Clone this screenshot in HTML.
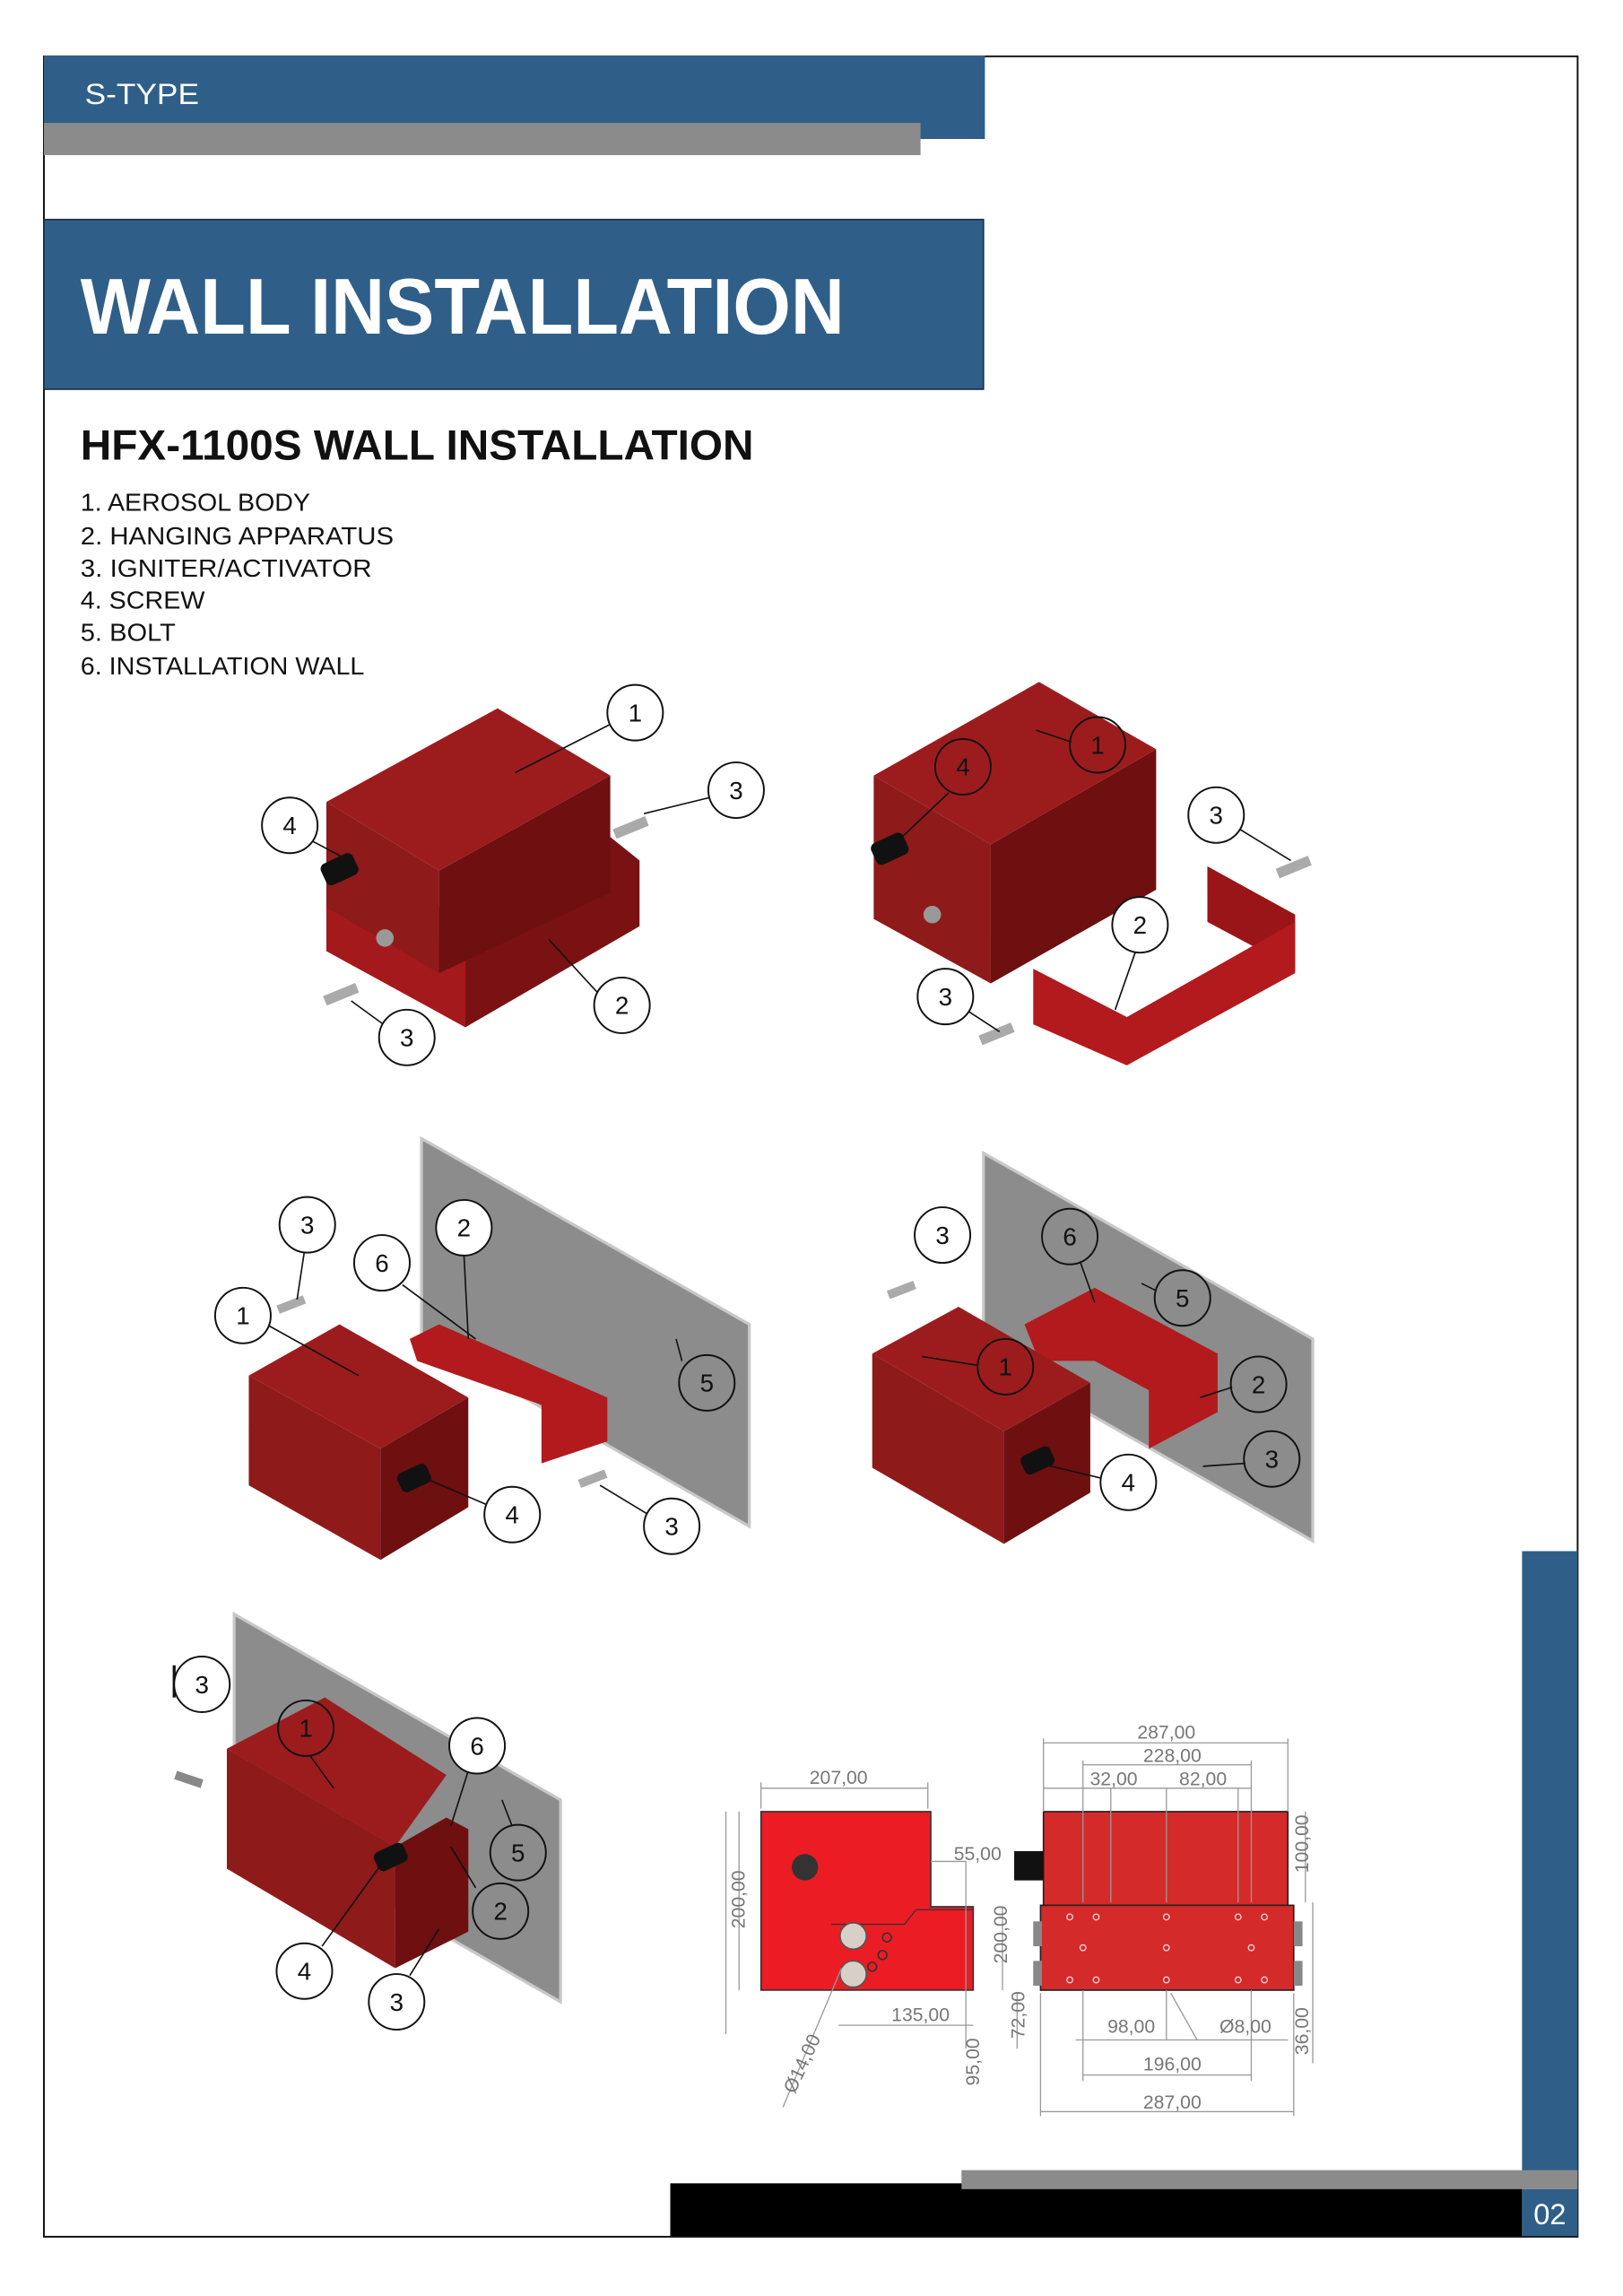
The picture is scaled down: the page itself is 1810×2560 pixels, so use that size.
<!DOCTYPE html>
<html><head><meta charset="utf-8"><style>
html,body{margin:0;padding:0;background:#fff;}
svg{display:block;}
text{font-family:"Liberation Sans",sans-serif;}
</style></head><body>
<svg width="1810" height="2560" viewBox="0 0 1109 1569" preserveAspectRatio="none" xmlns="http://www.w3.org/2000/svg">
<rect width="1109" height="1569" fill="#fff"/>
<!-- frame -->
<rect x="30" y="38.5" width="1048" height="1490" fill="none" stroke="#111" stroke-width="1.2"/>
<!-- header -->
<rect x="30" y="38" width="643" height="57" fill="#2f5f88"/>
<rect x="30" y="84" width="599" height="22" fill="#8c8b8c"/>
<text x="58" y="71" font-size="20" fill="#fff" textLength="78" lengthAdjust="spacingAndGlyphs">S-TYPE</text>
<rect x="30" y="150" width="642" height="116" fill="#2f5f88" stroke="#1a2f45" stroke-width="1"/>
<text x="55" y="228" font-size="54" font-weight="bold" fill="#fff" textLength="522" lengthAdjust="spacingAndGlyphs">WALL INSTALLATION</text>
<text x="55" y="314" font-size="29" font-weight="bold" fill="#111" textLength="460" lengthAdjust="spacingAndGlyphs">HFX-1100S WALL INSTALLATION</text>
<g font-size="17" fill="#111">
<text x="55" y="349" textLength="157" lengthAdjust="spacingAndGlyphs">1.  AEROSOL BODY</text>
<text x="55" y="372" textLength="214" lengthAdjust="spacingAndGlyphs">2. HANGING APPARATUS</text>
<text x="55" y="394" textLength="199" lengthAdjust="spacingAndGlyphs">3. IGNITER/ACTIVATOR</text>
<text x="55" y="416" textLength="85" lengthAdjust="spacingAndGlyphs">4. SCREW</text>
<text x="55" y="438" textLength="65" lengthAdjust="spacingAndGlyphs">5. BOLT</text>
<text x="55" y="461" textLength="194" lengthAdjust="spacingAndGlyphs">6. INSTALLATION WALL</text>
</g>

<!-- Fig 1 -->
<g>
<polygon points="300,620 417,572 437,588 437,633 318,702 300,692" fill="#7a1214"/>
<polygon points="223,600 318,650 318,702 223,650" fill="#a3191c"/>
<polygon points="223,548 340,484 417,530 300,595" fill="#9c1c1e"/>
<polygon points="223,548 300,595 300,665 223,620" fill="#8e1a1a"/>
<polygon points="300,595 417,530 417,610 300,665" fill="#6e0f10"/>
<rect x="220" y="586" width="24" height="16" rx="4" fill="#111" transform="rotate(-25 232 594)"/>
<circle cx="263" cy="641" r="6" fill="#999"/>
<path d="M420,570 l22,-9" stroke="#aaa" stroke-width="7"/>
<path d="M222,684 l22,-9" stroke="#aaa" stroke-width="7"/>
</g>
<!-- Fig 2 -->
<g>
<polygon points="825,592 885,625 885,662 825,630" fill="#9a1518"/>
<polygon points="706,662 770,695 885,630 885,665 770,728 706,700" fill="#b21a1d"/>
<polygon points="597,530 677,577 677,672 597,628" fill="#8e1a1a"/>
<polygon points="677,577 790,512 790,608 677,672" fill="#6e0f10"/>
<polygon points="597,530 710,466 790,512 677,577" fill="#9c1c1e"/>
<rect x="596" y="572" width="24" height="16" rx="4" fill="#111" transform="rotate(-25 608 580)"/>
<circle cx="637" cy="625" r="6" fill="#999"/>
<path d="M873,597 l22,-9" stroke="#aaa" stroke-width="7"/>
<path d="M670,711 l22,-9" stroke="#aaa" stroke-width="7"/>
</g>
<!-- Fig 3 -->
<g>
<polygon points="288,778 512,905 512,1043 288,915" fill="#8c8c8c" stroke="#c8c8c8" stroke-width="2"/>
<polygon points="280,915 300,905 415,955 415,985 370,1000 370,960 285,930" fill="#b21a1d"/>
<polygon points="170,940 260,990 260,1066 170,1015" fill="#8e1a1a"/>
<polygon points="260,990 320,955 320,1030 260,1066" fill="#6e0f10"/>
<polygon points="170,940 232,905 320,955 260,990" fill="#9c1c1e"/>
<rect x="272" y="1003" width="22" height="14" rx="4" fill="#111" transform="rotate(-25 283 1010)"/>
<path d="M190,895 l18,-7" stroke="#aaa" stroke-width="6"/>
<path d="M396,1014 l18,-7" stroke="#aaa" stroke-width="6"/>
</g>
<!-- Fig 4 -->
<g>
<polygon points="672,788 897,915 897,1053 672,925" fill="#8c8c8c" stroke="#c8c8c8" stroke-width="2"/>
<polygon points="700,905 748,880 832,925 832,965 785,990 785,950 748,930 710,930" fill="#b21a1d"/>
<polygon points="596,925 686,978 686,1055 596,1003" fill="#8e1a1a"/>
<polygon points="686,978 745,945 745,1020 686,1055" fill="#6e0f10"/>
<polygon points="596,925 655,893 745,945 686,978" fill="#9c1c1e"/>
<rect x="698" y="991" width="22" height="14" rx="4" fill="#111" transform="rotate(-25 709 998)"/>
<path d="M607,885 l18,-7" stroke="#aaa" stroke-width="6"/>
</g>
<!-- Fig 5 -->
<g>
<polygon points="160,1103 383,1230 383,1368 160,1240" fill="#8c8c8c" stroke="#c8c8c8" stroke-width="2"/>
<polygon points="155,1195 270,1262 270,1345 155,1277" fill="#8e1a1a"/>
<polygon points="270,1262 305,1242 320,1250 320,1320 270,1345" fill="#6e0f10"/>
<polygon points="155,1195 222,1160 305,1213 270,1262" fill="#9c1c1e"/>
<rect x="256" y="1262" width="22" height="14" rx="4" fill="#111" transform="rotate(-25 267 1269)"/>
<path d="M119,1138 v22" stroke="#111" stroke-width="2"/>
<path d="M120,1213 l18,6" stroke="#888" stroke-width="6"/>
</g>

<!-- leader lines and callouts -->
<g stroke="#111" stroke-width="1" fill="none">
<path d="M352,528 L417,495"/><path d="M242,590 L212,574"/><path d="M440,556 L485,545"/><path d="M375,642 L408,678"/><path d="M240,684 L262,700"/>
<path d="M708,499 L732,507"/><path d="M610,578 L648,542"/><path d="M882,588 L846,566"/><path d="M762,690 L776,650"/><path d="M683,705 L660,690"/>
<path d="M203,888 L208,855"/><path d="M320,915 L317,857"/><path d="M325,915 L275,878"/><path d="M245,940 L182,905"/><path d="M462,915 L466,930"/><path d="M290,1010 L332,1028"/><path d="M410,1015 L443,1035"/>
<path d="M748,890 L738,862"/><path d="M780,877 L790,882"/><path d="M630,927 L668,933"/><path d="M820,955 L842,948"/><path d="M822,1002 L851,1000"/><path d="M710,1000 L752,1010"/>
<path d="M228,1222 L212,1200"/><path d="M308,1248 L320,1210"/><path d="M343,1230 L350,1248"/><path d="M308,1262 L325,1290"/><path d="M262,1272 L220,1330"/><path d="M300,1318 L280,1350"/>
</g>
<g fill="#fff" stroke="#111" stroke-width="1.2">
<circle cx="434" cy="487" r="19"/><circle cx="503" cy="540" r="19"/><circle cx="198" cy="564" r="19"/><circle cx="425" cy="687" r="19"/><circle cx="278" cy="709" r="19"/>
<circle cx="658" cy="524" r="19" fill="none"/><circle cx="750" cy="509" r="19" fill="none"/><circle cx="831" cy="557" r="19"/><circle cx="779" cy="632" r="19"/><circle cx="646" cy="681" r="19"/>
<circle cx="210" cy="837" r="19"/><circle cx="317" cy="839" r="19"/><circle cx="261" cy="863" r="19"/><circle cx="166" cy="899" r="19"/><circle cx="483" cy="945" r="19" fill="none"/><circle cx="350" cy="1035" r="19"/><circle cx="459" cy="1043" r="19"/>
<circle cx="644" cy="844" r="19"/><circle cx="731" cy="845" r="19" fill="none"/><circle cx="808" cy="887" r="19" fill="none"/><circle cx="687" cy="934" r="19" fill="none"/><circle cx="860" cy="946" r="19" fill="none"/><circle cx="869" cy="997" r="19" fill="none"/><circle cx="771" cy="1013" r="19"/>
<circle cx="138" cy="1151" r="19"/><circle cx="209" cy="1181" r="19" fill="none"/><circle cx="326" cy="1193" r="19"/><circle cx="354" cy="1266" r="19" fill="none"/><circle cx="342" cy="1306" r="19" fill="none"/><circle cx="208" cy="1347" r="19"/><circle cx="271" cy="1368" r="19"/>
</g>
<g font-size="17" fill="#111" text-anchor="middle">
<text x="434" y="493">1</text><text x="503" y="546">3</text><text x="198" y="570">4</text><text x="425" y="693">2</text><text x="278" y="715">3</text>
<text x="658" y="530">4</text><text x="750" y="515">1</text><text x="831" y="563">3</text><text x="779" y="638">2</text><text x="646" y="687">3</text>
<text x="210" y="843">3</text><text x="317" y="845">2</text><text x="261" y="869">6</text><text x="166" y="905">1</text><text x="483" y="951">5</text><text x="350" y="1041">4</text><text x="459" y="1049">3</text>
<text x="644" y="850">3</text><text x="731" y="851">6</text><text x="808" y="893">5</text><text x="687" y="940">1</text><text x="860" y="952">2</text><text x="869" y="1003">3</text><text x="771" y="1019">4</text>
<text x="138" y="1157">3</text><text x="209" y="1187">1</text><text x="326" y="1199">6</text><text x="354" y="1272">5</text><text x="342" y="1312">2</text><text x="208" y="1353">4</text><text x="271" y="1374">3</text>
</g>

<!-- technical drawing: side view -->
<polygon points="520,1238 636,1238 636,1303 665,1303 665,1360 520,1360" fill="#ec1c24" stroke="#333" stroke-width="1"/>
<circle cx="550" cy="1276" r="9" fill="#333"/>
<path d="M568,1315 h50 l8,-10 h39" stroke="#333" fill="none" stroke-width="0.8"/>
<circle cx="583" cy="1323" r="9" fill="#d8d0c8" stroke="#555"/>
<circle cx="583" cy="1349" r="9" fill="#d8d0c8" stroke="#555"/>
<circle cx="606" cy="1324" r="3" fill="none" stroke="#333"/><circle cx="603" cy="1336" r="3" fill="none" stroke="#333"/><circle cx="596" cy="1344" r="3" fill="none" stroke="#333"/>
<!-- front view -->
<rect x="713" y="1238" width="167" height="64" fill="#d42a2a" stroke="#222"/>
<rect x="711" y="1302" width="173" height="58" fill="#d42a2a" stroke="#222"/>
<rect x="693" y="1265" width="20" height="20" fill="#111"/>
<rect x="706" y="1313" width="6" height="17" fill="#888"/><rect x="706" y="1340" width="6" height="17" fill="#888"/>
<rect x="884" y="1313" width="6" height="17" fill="#888"/><rect x="884" y="1340" width="6" height="17" fill="#888"/>
<g fill="none" stroke="#fff" stroke-width="0.8" opacity="0.8">
<circle cx="731" cy="1310" r="2"/><circle cx="749" cy="1310" r="2"/><circle cx="797" cy="1310" r="2"/><circle cx="846" cy="1310" r="2"/><circle cx="864" cy="1310" r="2"/>
<circle cx="740" cy="1331" r="2"/><circle cx="797" cy="1331" r="2"/><circle cx="855" cy="1331" r="2"/>
<circle cx="731" cy="1353" r="2"/><circle cx="749" cy="1353" r="2"/><circle cx="797" cy="1353" r="2"/><circle cx="846" cy="1353" r="2"/><circle cx="864" cy="1353" r="2"/>
</g>
<!-- dimension lines -->
<g stroke="#999" stroke-width="0.8" fill="none">
<path d="M520,1222 H634 M520,1218 V1236 M634,1218 V1236"/>
<path d="M505,1238 V1360 M496,1238 V1390"/>
<path d="M636,1272 H660 M660,1272 V1400"/>
<path d="M573,1384 H665"/>
<path d="M685,1303 V1360 M695,1362 V1400"/>
<path d="M713,1191 H880 M713,1188 V1238 M880,1188 V1238"/>
<path d="M740,1206 H855 M740,1203 V1300 M855,1203 V1300"/>
<path d="M713,1222 H855 M759,1222 V1300 M797,1222 V1300 M846,1222 V1300"/>
<path d="M892,1238 V1300 M897,1300 V1410"/>
<path d="M735,1394 H855 M797,1360 V1394 M800,1362 L818,1394 H880"/>
<path d="M740,1418 H855 M740,1360 V1422 M855,1360 V1422"/>
<path d="M711,1443 H884 M711,1362 V1446 M884,1362 V1446"/>
<path d="M575,1345 L535,1440"/>
</g>
<g font-size="13" fill="#777" text-anchor="middle">
<text x="573" y="1219">207,00</text>
<text x="668" y="1271">55,00</text>
<text x="629" y="1381">135,00</text>
<text x="797" y="1188">287,00</text>
<text x="801" y="1204">228,00</text>
<text x="761" y="1220">32,00</text>
<text x="822" y="1220">82,00</text>
<text x="773" y="1389">98,00</text>
<text x="851" y="1389">Ø8,00</text>
<text x="801" y="1415">196,00</text>
<text x="801" y="1441">287,00</text>
<text transform="translate(509,1298) rotate(-90)">200,00</text>
<text transform="translate(688,1322) rotate(-90)">200,00</text>
<text transform="translate(700,1377) rotate(-90)">72,00</text>
<text transform="translate(669,1409) rotate(-90)">95,00</text>
<text transform="translate(894,1260) rotate(-90)">100,00</text>
<text transform="translate(894,1388) rotate(-90)">36,00</text>
<text transform="translate(552,1412) rotate(-65)">Ø14,00</text>
</g>

<!-- footer -->
<rect x="1040" y="1060" width="38" height="430" fill="#2f5f88"/>
<rect x="458" y="1492" width="582" height="36" fill="#000"/>
<rect x="657" y="1483" width="421" height="13" fill="#8c8b8c"/>
<rect x="1040" y="1496" width="38" height="32" fill="#2f5f88"/>
<text x="1059" y="1520" font-size="20" fill="#fff" text-anchor="middle">02</text>
</svg>
</body></html>
